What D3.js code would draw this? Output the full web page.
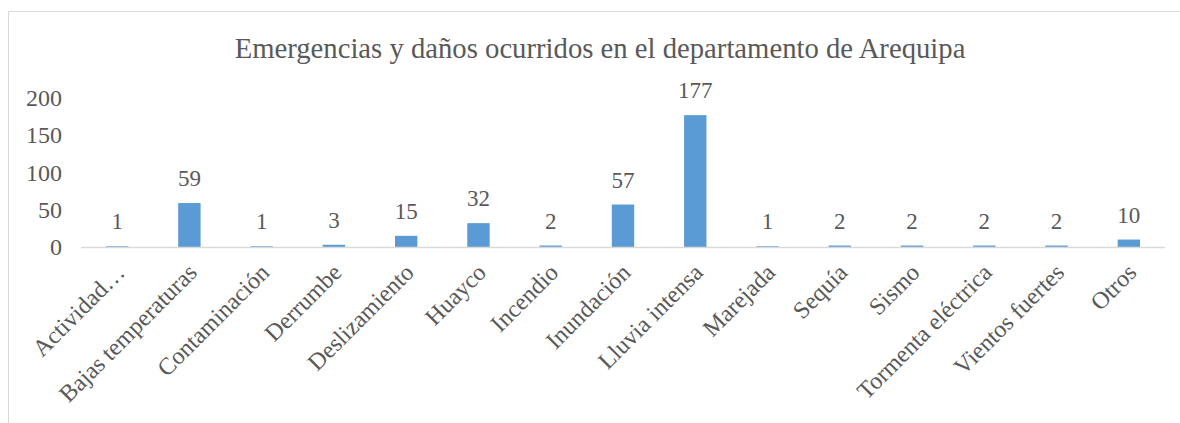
<!DOCTYPE html>
<html>
<head>
<meta charset="utf-8">
<script src="https://cdn.jsdelivr.net/npm/d3@7"></script>
<style>
  body { margin: 0; background: #fff; }
  text { font-family: "Liberation Serif", "Times New Roman", serif; fill: #595959; }
</style>
</head>
<body>
<svg id="chart"></svg>
<script>

var categories = ["Actividad…", "Bajas temperaturas", "Contaminación", "Derrumbe", "Deslizamiento",
    "Huayco", "Incendio", "Inundación", "Lluvia intensa", "Marejada", "Sequía", "Sismo",
    "Tormenta eléctrica", "Vientos fuertes", "Otros"];
var values = [1, 59, 1, 3, 15, 32, 2, 57, 177, 1, 2, 2, 2, 2, 10];
var yTicks = [0, 50, 100, 150, 200];
var title = "Emergencias y daños ocurridos en el departamento de Arequipa";

var width = 1180;
var height = 423;

function draw()
{
    var svg = d3.select("#chart")
        .attr("width", width)
        .attr("height", height);

    // chart border (cut off at right and bottom in the picture)
    svg.append("rect")
        .attr("x", 8.5)
        .attr("y", 11.5)
        .attr("width", width)
        .attr("height", height)
        .attr("fill", "none")
        .attr("stroke", "#d9d9d9");

    svg.append("text")
        .attr("x", 600)
        .attr("y", 58)
        .attr("text-anchor", "middle")
        .style("font-size", "28.7px")
        .text(title);

    var x = d3.scaleBand()
        .domain(categories)
        .range([81, 1165])
        .paddingInner(0.69)
        .paddingOuter(0.345);

    var y = d3.scaleLinear()
        .domain([0, 200])
        .range([247, 98]);

    // y labels only, no axis line
    var yAxis = svg.append("g")
        .attr("transform", "translate(62,0)")
        .call(d3.axisLeft(y).tickValues(yTicks).tickSize(0).tickPadding(0));
    yAxis.select(".domain").remove();
    yAxis.selectAll("text")
        .style("font-size", "24px")
        .style("font-family", "Liberation Serif")
        .attr("fill", "#595959");

    svg.selectAll(".bar")
        .data(values)
        .enter()
        .append("rect")
        .attr("class", "bar")
        .attr("x", function(d, i) { return x(categories[i]); })
        .attr("y", function(d) { return y(d); })
        .attr("width", x.bandwidth())
        .attr("height", function(d) { return y(0) - y(d); })
        .attr("fill", "#5b9bd5");

    // baseline
    svg.append("line")
        .attr("x1", 81)
        .attr("x2", 1165)
        .attr("y1", y(0) + 0.5)
        .attr("y2", y(0) + 0.5)
        .attr("stroke", "#d9d9d9")
        .attr("stroke-width", 1.5);

    svg.selectAll(".val")
        .data(values)
        .enter()
        .append("text")
        .attr("class", "val")
        .attr("x", function(d, i) { return x(categories[i]) + x.bandwidth() / 2; })
        .attr("y", function(d) { return y(d) - 17; })
        .attr("text-anchor", "middle")
        .style("font-size", "23px")
        .text(function(d) { return d; });

    svg.selectAll(".cat")
        .data(categories)
        .enter()
        .append("text")
        .attr("class", "cat")
        .attr("transform", function(d) {
            var cx = x(d) + x.bandwidth() / 2;
            return "translate(" + (cx + 9) + "," + 274 + ") rotate(-45)";
        })
        .attr("text-anchor", "end")
        .style("font-size", "24px")
        .text(function(d) { return d; });
}

draw();
</script>
</body>
</html>
